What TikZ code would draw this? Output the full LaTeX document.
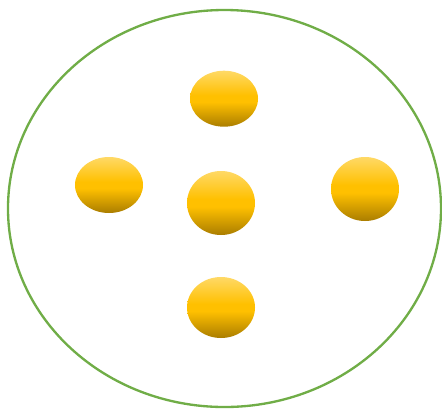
\documentclass[tikz,border=0pt]{standalone}
\usetikzlibrary{shapes.geometric}
\definecolor{cellgreen}{RGB}{112,173,71}
\definecolor{goldtop}{RGB}{255,217,102}
\definecolor{goldmid}{RGB}{255,192,0}
\definecolor{goldbot}{RGB}{170,125,0}
\pgfdeclareverticalshading{goldball}{100bp}{color(0bp)=(goldbot); color(25bp)=(goldbot); color(47bp)=(goldmid); color(53bp)=(goldmid); color(75bp)=(goldtop); color(100bp)=(goldtop)}
\begin{document}
\begin{tikzpicture}[x=0.03cm,y=-0.03cm,
  cell/.style={draw=cellgreen,line width=0.07cm,ellipse,minimum width=12.99cm,minimum height=11.91cm,inner sep=0pt},
  grain/.style={ellipse,inner sep=0pt,minimum width=2.04cm,shading=goldball}]
  \useasboundingbox (0,0) rectangle (442,408);
  \node[cell] (c) at (224.5,208.5){};
  \node[grain,minimum height=1.68cm] (g1) at (224,98.7){};
  \node[grain,minimum height=1.68cm] (g2) at (109,185){};
  \node[grain,minimum height=1.92cm] (g3) at (221,203){};
  \node[grain,minimum height=1.92cm] (g4) at (365,189){};
  \node[grain,minimum height=1.83cm] (g5) at (221,307.5){};
\end{tikzpicture}
\end{document}
